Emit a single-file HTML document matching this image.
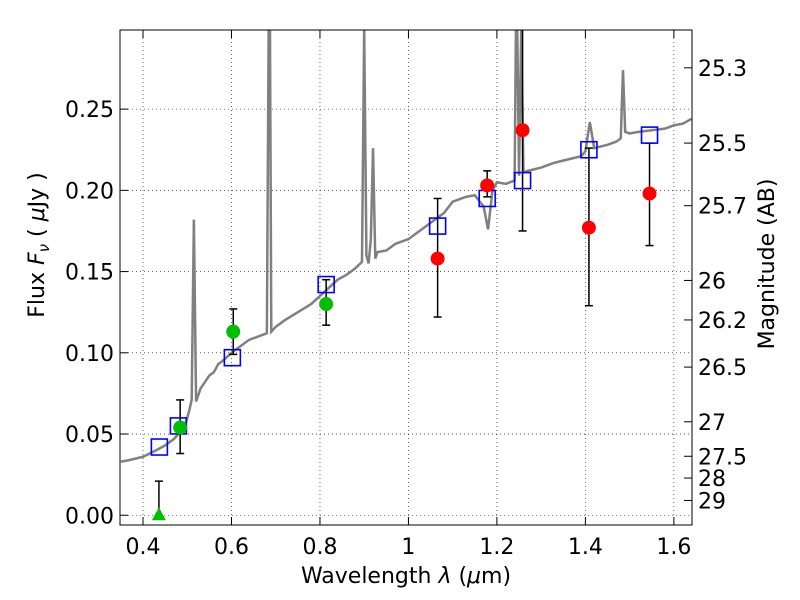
<!DOCTYPE html>
<html><head><meta charset="utf-8"><style>body{margin:0;background:#fff}svg{display:block;font-family:"DejaVu Sans","Liberation Sans",sans-serif}</style></head>
<body>
<svg id="chart" width="800" height="600"></svg>
<script>
const specX=[0.35,0.37,0.40,0.43,0.45,0.47,0.48,0.49,0.50,0.505,0.51,0.515,0.52,0.53,0.54,0.55,0.56,0.57,0.58,0.60,0.62,0.64,0.66,0.68,0.684,0.687,0.690,0.70,0.72,0.75,0.78,0.80,0.82,0.84,0.86,0.88,0.895,0.90,0.905,0.91,0.915,0.92,0.925,0.93,0.95,0.97,1.0,1.03,1.05,1.08,1.10,1.13,1.15,1.17,1.18,1.19,1.20,1.22,1.24,1.243,1.246,1.25,1.255,1.26,1.27,1.30,1.33,1.36,1.39,1.40,1.41,1.42,1.45,1.47,1.48,1.485,1.49,1.50,1.52,1.55,1.58,1.60,1.62,1.64];
const specY=[0.033,0.034,0.036,0.040,0.043,0.047,0.050,0.052,0.060,0.065,0.071,0.182,0.070,0.078,0.082,0.086,0.088,0.093,0.095,0.100,0.104,0.108,0.110,0.112,0.30,0.30,0.113,0.116,0.120,0.125,0.130,0.135,0.140,0.145,0.148,0.152,0.156,0.30,0.160,0.155,0.170,0.226,0.158,0.162,0.163,0.167,0.170,0.176,0.180,0.186,0.193,0.196,0.197,0.190,0.176,0.200,0.205,0.204,0.206,0.30,0.30,0.209,0.30,0.211,0.212,0.214,0.217,0.219,0.221,0.224,0.242,0.226,0.228,0.230,0.232,0.274,0.236,0.235,0.236,0.237,0.238,0.240,0.241,0.244];
const sqX=[0.437,0.480,0.602,0.814,1.066,1.178,1.258,1.408,1.545];
const sqY=[0.042,0.055,0.097,0.142,0.178,0.195,0.206,0.225,0.234];
const gX=[0.484,0.604,0.814];
const gY=[0.054,0.113,0.130];
const gLo=[0.038,0.099,0.117];
const gHi=[0.071,0.127,0.145];
const rX=[1.066,1.178,1.258,1.408,1.545];
const rY=[0.158,0.203,0.237,0.177,0.198];
const rLo=[0.122,0.196,0.175,0.129,0.166];
const rHi=[0.195,0.212,0.31,0.226,0.229];
const triX=[0.436], triY=[0.0], triHi=[0.021];
const xTicks=[0.4,0.6,0.8,1,1.2,1.4,1.6];
const yTicks=[0,0.05,0.10,0.15,0.20,0.25];
const yTickLabels=["0.00","0.05","0.10","0.15","0.20","0.25"];
const magTicks=[25.3,25.5,25.7,26,26.2,26.5,27,27.5,28,29];

const L=120,R=692,T=30,B=525,x0=0.348,x1=1.641,y0=-0.006,y1=0.2987;
const X=v=>L+(v-x0)/(x1-x0)*(R-L);
const Y=v=>B-(v-y0)/(y1-y0)*(B-T);
const svg=document.getElementById('chart');
const NS='http://www.w3.org/2000/svg';
function mk(tag,attrs,parent){const e=document.createElementNS(NS,tag);for(const k in attrs)e.setAttribute(k,attrs[k]);(parent||svg).appendChild(e);return e;}
const defs=mk('defs',{});const cp=mk('clipPath',{id:'cp'},defs);mk('rect',{x:L,y:T,width:R-L,height:B-T},cp);
const grid=mk('g',{stroke:'#000','stroke-width':0.6,'stroke-dasharray':'1,3'});


xTicks.forEach(t=>{mk('line',{x1:X(t),x2:X(t),y1:T,y2:B},grid);});
yTicks.forEach(t=>{mk('line',{x1:L,x2:R,y1:Y(t),y2:Y(t)},grid);});
const plot=mk('g',{'clip-path':'url(#cp)'});
const sp=mk('polyline',{points:specX.map((v,i)=>X(v)+','+Y(specY[i])).join(' '),fill:'none',stroke:'#808080','stroke-width':2.5},plot);


function err(xs,lo,hi,name){xs.forEach((v,i)=>{const g=mk('g',{stroke:'#000','stroke-width':1.5},plot);


mk('line',{x1:X(v),x2:X(v),y1:Y(lo[i]),y2:Y(hi[i])},g);mk('line',{x1:X(v)-4,x2:X(v)+4,y1:Y(lo[i]),y2:Y(lo[i])},g);mk('line',{x1:X(v)-4,x2:X(v)+4,y1:Y(hi[i]),y2:Y(hi[i])},g);});}
err(gX,gLo,gHi,'green-errorbar');err(rX,rLo,rHi,'red-errorbar');
err(triX,triY,triHi,'triangle-errorbar');
sqX.forEach((v,i)=>{const r=mk('rect',{x:X(v)-8,y:Y(sqY[i])-8,width:16,height:16,fill:'none',stroke:'#0000ff','stroke-width':1.6},plot);

});
gX.forEach((v,i)=>{const c=mk('circle',{cx:X(v),cy:Y(gY[i]),r:7,fill:'#00bf00'},plot);

});
rX.forEach((v,i)=>{const c=mk('circle',{cx:X(v),cy:Y(rY[i]),r:7,fill:'#ff0000'},plot);

});
triX.forEach((v,i)=>{const p=mk('polygon',{points:`${X(v)},${Y(triY[i])-8} ${X(v)-7},${Y(triY[i])+5} ${X(v)+7},${Y(triY[i])+5}`,fill:'#00bf00'},plot);

});
const fr=mk('rect',{x:L,y:T,width:R-L,height:B-T,fill:'none',stroke:'#000','stroke-width':1});


xTicks.forEach(t=>{mk('line',{x1:X(t),x2:X(t),y1:B,y2:B-8,stroke:'#000'});mk('line',{x1:X(t),x2:X(t),y1:T,y2:T+8,stroke:'#000'});
const tx=mk('text',{x:X(t),y:B+29,'text-anchor':'middle','font-size':22});tx.textContent=String(t);

});
yTicks.forEach((t,i)=>{mk('line',{x1:L,x2:L+8,y1:Y(t),y2:Y(t),stroke:'#000'});
const tx=mk('text',{x:L-6,y:Y(t)+8,'text-anchor':'end','font-size':22});tx.textContent=yTickLabels[i];

});
magTicks.forEach(m=>{const f=Math.pow(10,(23.9-m)/2.5);const y=Y(f);mk('line',{x1:R,x2:R-8,y1:y,y2:y,stroke:'#000'});
const tx=mk('text',{x:R+6,y:y+8,'font-size':22});tx.textContent=String(m);

});
const xl=mk('text',{x:406,y:583,'text-anchor':'middle','font-size':22});xl.innerHTML='Wavelength  <tspan font-style="italic">λ</tspan> (<tspan font-style="italic">μ</tspan>m)';


const yl=mk('text',{x:0,y:0,'text-anchor':'middle','font-size':22,transform:'translate(44,245) rotate(-90)'});yl.innerHTML='Flux  <tspan font-style="italic">F</tspan><tspan font-size="15" font-style="italic" dy="5">ν</tspan><tspan dy="-5">  (  </tspan><tspan font-style="italic">μ</tspan>Jy )';


const ml=mk('text',{x:0,y:0,'text-anchor':'middle','font-size':22,transform:'translate(774,264) rotate(-90)'});ml.textContent='Magnitude (AB)';


</script>
</body></html>
